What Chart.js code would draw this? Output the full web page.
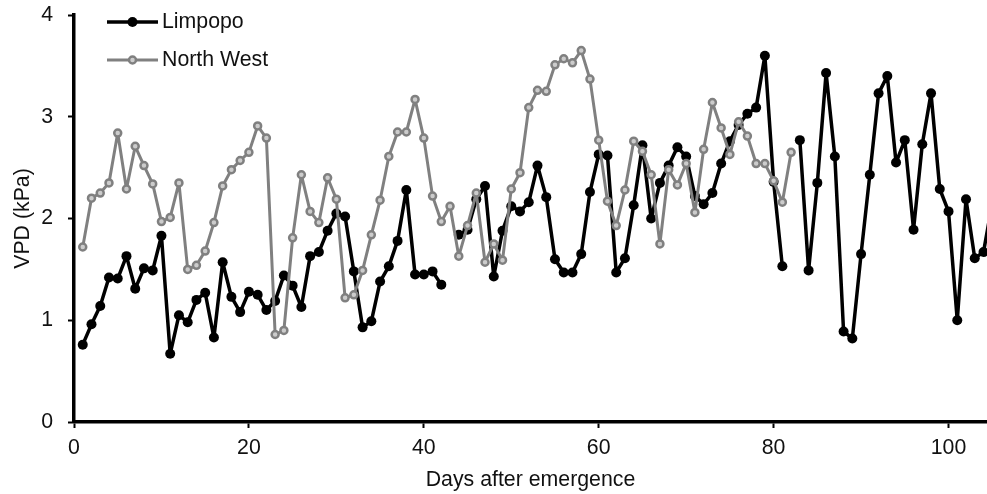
<!DOCTYPE html>
<html>
<head>
<meta charset="utf-8">
<script src="https://cdn.jsdelivr.net/npm/chart.js@4/dist/chart.umd.min.js"></script>
<style>
  html, body { margin: 0; padding: 0; background: #ffffff; }
  #wrap { width: 987px; height: 494px; position: relative; }
</style>
</head>
<body>
<div id="wrap"><canvas id="c" width="987" height="494"></canvas></div>
<script>
// ---- data ----
const days = [1,2,3,4,5,6,7,8,9,10,11,12,13,14,15,16,17,18,19,20,
  21,22,23,24,25,26,27,28,29,30,31,32,33,34,35,36,37,38,39,40,
  41,42,43,44,45,46,47,48,49,50,51,52,53,54,55,56,57,58,59,60,
  61,62,63,64,65,66,67,68,69,70,71,72,73,74,75,76,77,78,79,80,
  81,82,83,84,85,86,87,88,89,90,91,92,93,94,95,96,97,98,99,100,
  101,102,103,104,105];

const limpopo = [0.76,0.96,1.14,1.42,1.41,1.63,1.31,1.51,1.49,1.83,
  0.67,1.05,0.98,1.20,1.27,0.83,1.57,1.23,1.08,1.28,
  1.25,1.10,1.19,1.44,1.34,1.13,1.63,1.67,1.88,2.05,
  2.02,1.48,0.93,0.99,1.38,1.53,1.78,2.28,1.45,1.45,
  1.48,1.35,null,1.84,1.89,2.19,2.32,1.43,1.88,2.12,
  2.07,2.16,2.52,2.21,1.60,1.47,1.47,1.65,2.26,2.63,
  2.62,1.47,1.61,2.13,2.72,2.00,2.35,2.52,2.70,2.61,
  2.22,2.14,2.25,2.54,2.76,2.92,3.03,3.09,3.60,2.36,
  1.53,null,2.77,1.49,2.35,3.43,2.61,0.89,0.82,1.65,
  2.43,3.23,3.40,2.55,2.77,1.89,2.73,3.23,2.29,2.07,
  1.00,2.19,1.61,1.67,2.15];

const northWest = [1.72,2.20,2.25,2.35,2.84,2.29,2.71,2.52,2.34,1.97,
  2.01,2.35,1.50,1.54,1.68,1.96,2.32,2.48,2.57,2.65,
  2.91,2.79,0.86,0.90,1.81,2.43,2.07,1.96,2.40,2.19,
  1.22,1.25,1.49,1.84,2.18,2.61,2.85,2.85,3.17,2.79,
  2.22,1.97,2.12,1.63,1.93,2.25,1.57,1.75,1.59,2.29,
  2.45,3.09,3.26,3.25,3.51,3.57,3.53,3.65,3.37,2.77,
  2.17,1.93,2.28,2.76,2.66,2.43,1.75,2.48,2.33,2.54,
  2.06,2.68,3.14,2.89,2.63,2.95,2.81,2.54,2.54,2.37,
  2.16,2.65];

const seriesNames = ['Limpopo', 'North West'];
const xTicks = [0, 20, 40, 60, 80, 100];
const yTicks = [0, 1, 2, 3, 4];
const xTitle = 'Days after emergence';
const yTitle = 'VPD (kPa)';

function toPoints(vals) {
  const pts = [];
  for (let i = 0; i < vals.length; i++) {
    pts.push({ x: days[i], y: vals[i] });
  }
  return pts;
}

const FONT = "'Liberation Sans', Arial, sans-serif";
const FSIZE = 21.3;

// custom legend drawn inside the plot area (line + marker + label)
const insideLegend = {
  id: 'insideLegend',
  afterDraw(chart) {
    const ctx = chart.ctx;
    const order = [0, 1];
    const rowY = [22, 60];
    const x0 = 107, x1 = 158, tx = 162;
    ctx.save();
    order.forEach((idx, k) => {
      const ds = chart.data.datasets[idx];
      const y = rowY[k];
      ctx.beginPath();
      ctx.strokeStyle = ds.borderColor;
      ctx.lineWidth = ds.borderWidth;
      ctx.moveTo(x0, y);
      ctx.lineTo(x1, y);
      ctx.stroke();
      ctx.beginPath();
      ctx.arc((x0 + x1) / 2, y, ds.pointRadius, 0, Math.PI * 2);
      ctx.fillStyle = ds.pointBackgroundColor;
      ctx.fill();
      if (ds.pointBorderWidth > 0) {
        ctx.lineWidth = ds.pointBorderWidth;
        ctx.strokeStyle = ds.pointBorderColor;
        ctx.stroke();
      }
      ctx.fillStyle = '#111';
      ctx.font = FSIZE + 'px ' + FONT;
      ctx.textBaseline = 'middle';
      ctx.textAlign = 'left';
      ctx.fillText(ds.label, tx, y);
    });
    ctx.restore();
  }
};

new Chart(document.getElementById('c'), {
  type: 'line',
  data: {
    datasets: [
      {
        label: seriesNames[0],
        data: toPoints(limpopo),
        borderColor: '#000000',
        borderWidth: 3.5,
        borderJoinStyle: 'round',
        borderCapStyle: 'round',
        pointRadius: 5,
        pointBorderWidth: 0,
        pointBackgroundColor: '#000000',
        pointBorderColor: '#000000',
        tension: 0,
        spanGaps: false,
        order: 1
      },
      {
        label: seriesNames[1],
        data: toPoints(northWest),
        borderColor: '#808080',
        borderWidth: 3,
        borderJoinStyle: 'round',
        borderCapStyle: 'round',
        pointRadius: 3.5,
        pointBorderWidth: 2.5,
        pointBackgroundColor: '#cccccc',
        pointBorderColor: '#808080',
        tension: 0,
        spanGaps: false,
        order: 0
      }
    ]
  },
  options: {
    responsive: false,
    devicePixelRatio: 1,
    animation: false,
    layout: { autoPadding: false, padding: { top: 15, right: 0, bottom: 0, left: 0 } },
    plugins: {
      legend: { display: false },
      tooltip: { enabled: false }
    },
    scales: {
      x: {
        type: 'linear',
        min: 0,
        max: 104.4,
        afterFit(scale) {
          scale.height = 72;
          scale.paddingLeft = 0;
          scale.paddingRight = 0;
        },
        afterBuildTicks(scale) { scale.ticks = xTicks.map(v => ({ value: v })); },
        ticks: {
          includeBounds: false,
          autoSkip: false,
          maxRotation: 0,
          padding: 7,
          color: '#111',
          font: { family: FONT, size: FSIZE }
        },
        grid: {
          display: true,
          drawOnChartArea: false,
          drawTicks: true,
          tickLength: 6,
          tickWidth: 2,
          tickColor: '#000'
        },
        border: { display: true, color: '#000', width: 3.5 },
        title: {
          display: true,
          text: xTitle,
          color: '#111',
          font: { family: FONT, size: FSIZE },
          padding: { top: 0, bottom: 1 }
        }
      },
      y: {
        type: 'linear',
        min: 0,
        max: 4,
        afterFit(scale) {
          scale.width = 74;
          scale.paddingTop = 0;
          scale.paddingBottom = 0;
        },
        afterBuildTicks(scale) { scale.ticks = yTicks.map(v => ({ value: v })); },
        ticks: {
          padding: 15,
          color: '#111',
          font: { family: FONT, size: FSIZE }
        },
        grid: {
          display: true,
          drawOnChartArea: false,
          drawTicks: true,
          tickLength: 6,
          tickWidth: 2,
          tickColor: '#000'
        },
        border: { display: true, color: '#000', width: 3.5 },
        title: {
          display: true,
          text: yTitle,
          color: '#111',
          font: { family: FONT, size: FSIZE },
          padding: { top: 10, bottom: 0 }
        }
      }
    }
  },
  plugins: [insideLegend]
});
</script>
</body>
</html>
